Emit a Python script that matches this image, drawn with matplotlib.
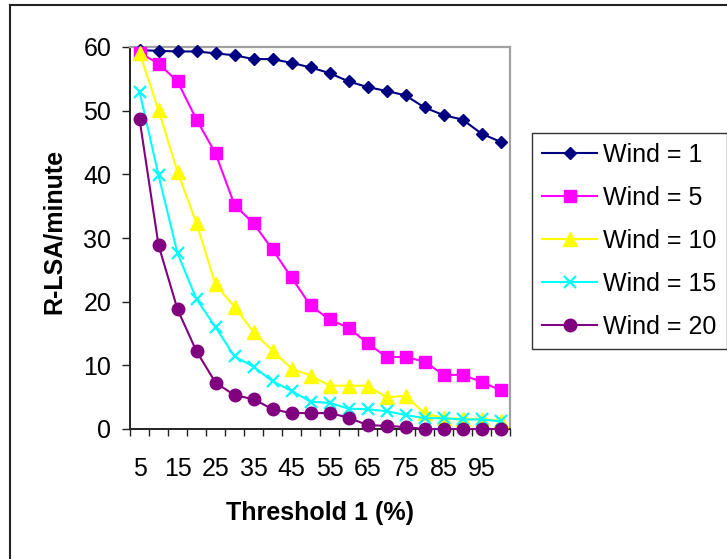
import matplotlib
matplotlib.use("Agg")
import matplotlib.pyplot as plt
from matplotlib.lines import Line2D
import numpy as np

plt.rcParams['font.family'] = ['Liberation Sans', 'DejaVu Sans']

thresholds = [5, 10, 15, 20, 25, 30, 35, 40, 45, 50, 55, 60, 65, 70, 75, 80, 85, 90, 95, 100]
wind_1 = [59.5, 59.4, 59.3, 59.3, 59.0, 58.7, 58.1, 58.1, 57.5, 56.8, 55.9, 54.6, 53.7, 53.1, 52.4, 50.5, 49.3, 48.6, 46.4, 45.1]
wind_5 = [59.1, 57.4, 54.6, 48.6, 43.3, 35.2, 32.3, 28.2, 23.8, 19.4, 17.2, 15.9, 13.5, 11.3, 11.3, 10.6, 8.5, 8.5, 7.4, 6.1]
wind_10 = [59.1, 50.1, 40.4, 32.3, 22.7, 19.2, 15.2, 12.3, 9.5, 8.4, 6.8, 6.8, 6.8, 5.0, 5.2, 2.5, 1.7, 1.6, 1.6, 1.3]
wind_15 = [53.0, 39.9, 27.6, 20.4, 16.0, 11.4, 9.8, 7.5, 6.0, 4.3, 4.1, 3.2, 3.1, 2.8, 2.2, 1.7, 1.7, 1.5, 1.5, 1.2]
wind_20 = [48.7, 28.9, 18.8, 12.2, 7.3, 5.3, 4.7, 3.1, 2.5, 2.5, 2.5, 1.8, 0.6, 0.5, 0.3, 0.0, 0.0, 0.0, 0.0, 0.0]
labels = ["Wind = 1", "Wind = 5", "Wind = 10", "Wind = 15", "Wind = 20"]
yticks = [0, 10, 20, 30, 40, 50, 60]

W, H = 727, 559
fig = plt.figure(figsize=(W / 100, H / 100), dpi=100)
ax = fig.add_axes([130 / W, 1 - 429 / H, 380 / W, 382 / H])

x = np.arange(len(thresholds))
styles = [
    dict(color='#000080', marker='D', ms=6.6),
    dict(color='#FF00FF', marker='s', ms=9.2),
    dict(color='#FFFF00', marker='^', ms=9.4),
    dict(color='#00FFFF', marker='x', ms=8.8, mew=1.6),
    dict(color='#800080', marker='o', ms=9.0),
]
series = [wind_1, wind_5, wind_10, wind_15, wind_20]
for ys, st, lab in zip(series, styles, labels):
    ax.plot(x, ys, lw=1.5, label=lab, clip_on=False, zorder=3, **st)

ax.set_xlim(-0.5, len(thresholds) - 0.5)
ax.set_ylim(0, 60)

# x axis: labels every other category, tick marks between categories
ax.set_xticks(x[::2])
ax.set_xticklabels([str(t) for t in thresholds[::2]])
ax.set_xticks(np.arange(-0.5, len(thresholds), 1.0), minor=True)
ax.tick_params(axis='x', which='major', length=0, pad=20, labelsize=18)
ax.tick_params(axis='x', which='minor', length=5, width=1.0, direction='out', color='#222222')
ax.set_yticks(yticks)
ax.tick_params(axis='y', which='major', length=5.5, width=1.0, pad=8, labelsize=18, color='#222222')

for s in ['left', 'bottom']:
    ax.spines[s].set_color('#222222')
    ax.spines[s].set_linewidth(1.4)
for s in ['top', 'right']:
    ax.spines[s].set_color('#A0A0A0')
    ax.spines[s].set_linewidth(1.6)

fig.text(320 / W, 1 - 513 / H, "Threshold 1 (%)", fontsize=18, fontweight='bold',
         ha='center', va='center')
fig.text(54 / W, 1 - 231 / H, "R-LSA/minute", fontsize=18, fontweight='bold',
         ha='center', va='center', rotation=90)

leg = fig.legend(loc='upper left', bbox_to_anchor=(532 / W, 1 - 133 / H),
                 fontsize=18, frameon=True, fancybox=False, shadow=False,
                 handlelength=2.2, handletextpad=0.25, labelspacing=0.76,
                 borderpad=0.4, borderaxespad=0)
leg.get_frame().set_edgecolor('#000000')
leg.get_frame().set_linewidth(1.0)

# outer chart border (left and top visible)
fig.add_artist(Line2D([10 / W, 10 / W], [0, 1 - 5 / H], color='#222222', lw=1.5))
fig.add_artist(Line2D([10 / W, 1.0], [1 - 5 / H, 1 - 5 / H], color='#222222', lw=1.5))

fig.savefig("out.png", dpi=100)
